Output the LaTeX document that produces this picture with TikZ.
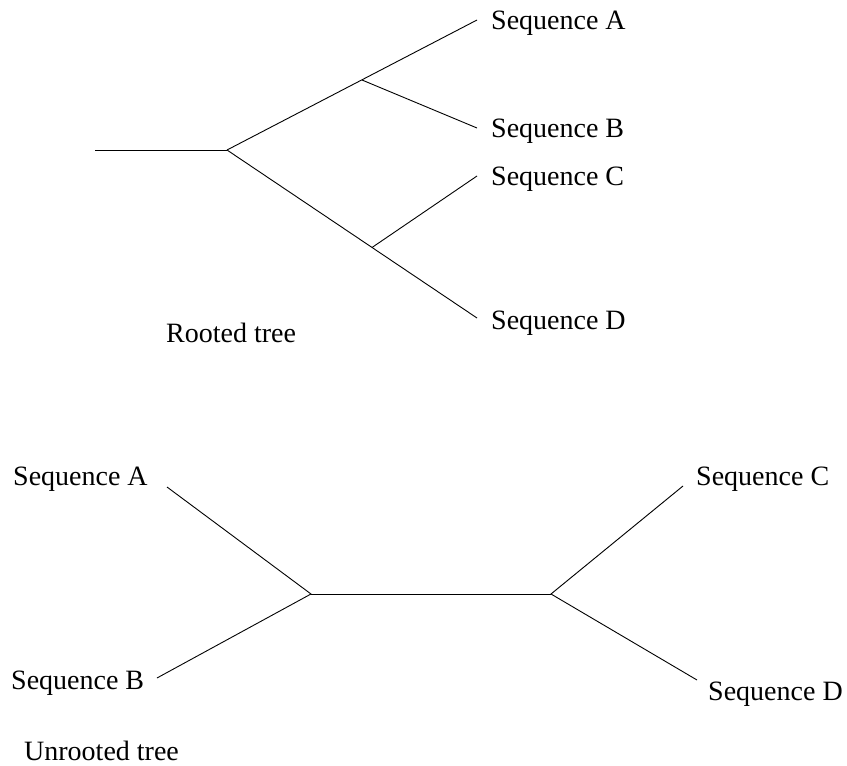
\documentclass[tikz,border=0pt]{standalone}
\usepackage{fontspec}
\setmainfont{Liberation Serif}
\begin{document}
\begin{tikzpicture}[x=1pt,y=-1pt,
  branch/.style={draw=black,line width=0.9pt},
  leaf/.style={anchor=base west,inner sep=0pt,font=\fontsize{28}{32}\selectfont}]
\useasboundingbox (0,0) rectangle (847,766);
% rooted tree
\coordinate (r0) at (95,150);
\coordinate (r) at (227,150);
\coordinate (ab) at (362,80);
\coordinate (cd) at (372,247.5);
\coordinate (ea) at (477,20);
\coordinate (eb) at (477,128);
\coordinate (ec) at (477,176);
\coordinate (ed) at (477,318);
\node[leaf] (la) at (491,29) {Sequence A};
\node[leaf] (lb) at (491,137) {Sequence B};
\node[leaf] (lc) at (491,185) {Sequence C};
\node[leaf] (ld) at (491,329) {Sequence D};
\node[leaf] (lr) at (166,342) {Rooted tree};
\draw[branch] (r0) -- (r);
\draw[branch] (r) -- (ea);
\draw[branch] (ab) -- (eb);
\draw[branch] (r) -- (ed);
\draw[branch] (cd) -- (ec);
% unrooted tree
\coordinate (u1) at (311,594);
\coordinate (u2) at (551,594);
\coordinate (fa) at (167,487);
\coordinate (fb) at (157,678);
\coordinate (fc) at (683,486);
\coordinate (fd) at (697,680);
\node[leaf] (ua) at (13,485) {Sequence A};
\node[leaf] (ub) at (11,689) {Sequence B};
\node[leaf] (uc) at (696,485) {Sequence C};
\node[leaf] (ud) at (708,700) {Sequence D};
\node[leaf] (lu) at (24,760) {Unrooted tree};
\draw[branch] (fa) -- (u1) -- (fb);
\draw[branch] (u1) -- (u2);
\draw[branch] (fc) -- (u2) -- (fd);
\end{tikzpicture}
\end{document}
